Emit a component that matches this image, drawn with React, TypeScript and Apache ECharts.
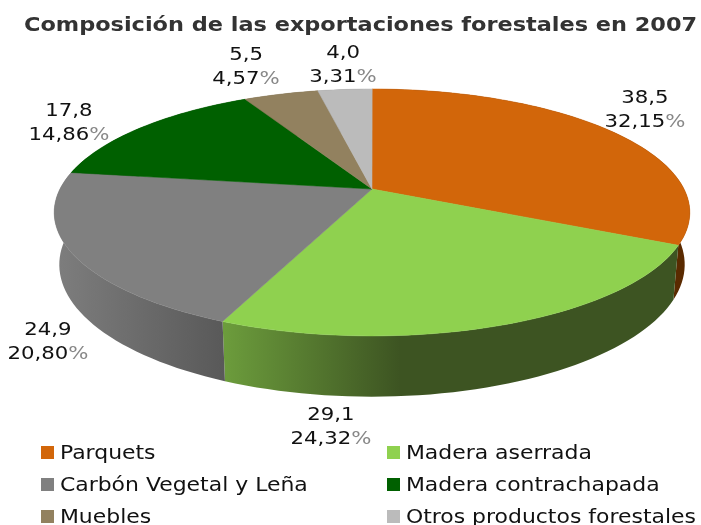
import React, { useEffect, useRef } from "react";
import * as echarts from "echarts";

const categories = ["Parquets", "Madera aserrada", "Carbón Vegetal y Leña", "Madera contrachapada", "Muebles", "Otros productos forestales"];
const values = [38.5, 29.1, 24.9, 17.8, 5.5, 4.0];
const percents = [32.15, 24.32, 20.8, 14.86, 4.57, 3.31];
const colors = ["#D2660A", "#8FD14F", "#808080", "#006000", "#92815F", "#BBBBBB"];
const titleText = "Composición de las exportaciones forestales en 2007";

// The reference picture is stretched sideways: the chart is laid out narrower and stretched by CSS.
const SX = 1.18;
// layout only, in page pixels
const labelPos = [[645, 109], [331, 426], [48, 341], [69, 122], [246, 66], [343, 64]];
const legendPos = [[41, 443], [387, 443], [41, 475], [387, 475], [41, 507], [387, 507]];
const wallFills: any[] = [
  [[372, "#5A2A00"], [690, "#5A2A00"]],
  [[224, "#6C9C3C"], [400, "#3D5422"], [690, "#3D5422"]],
  [[54, "#7E7E7E"], [228, "#585858"]],
  [[54, "#004000"], [372, "#004000"]],
  [[54, "#5F533C"], [372, "#5F533C"]],
  [[54, "#777777"], [372, "#777777"]],
];

const CX = 372, CY = 189, A = 312, B = 119, K = -0.19;
function project(share: number) {
  const t = (share / 100) * Math.PI * 2;
  const u = Math.sin(t), v = -Math.cos(t), w = 1 + K * v;
  return [(A * u) / w, (B * v) / w];
}
const top = (s: number) => { const p = project(s); return [(CX + p[0]) / SX, CY + p[1]]; };
const bot = (s: number) => { const p = project(s); return [(CX + p[0] * 0.984) / SX, 239.5 + p[1] * 1.07]; };
function arc(f: (s: number) => number[], a: number, b: number) {
  const n = Math.max(2, Math.ceil((b - a) * 2));
  const out: number[][] = [];
  for (let i = 0; i <= n; i++) out.push(f(a + ((b - a) * i) / n));
  return out;
}
const fmt = (v: number, d: number) => v.toFixed(d).replace(".", ",");

export default function App() {
  const ref = useRef<HTMLDivElement>(null);
  useEffect(() => {
    document.body.style.margin = "0";
    const chart = echarts.init(ref.current!, null, { renderer: "svg" });
    const starts = percents.map((_, i) => percents.slice(0, i).reduce((a, b) => a + b, 0));
    const series = categories.map((name, i) => ({
      type: "custom",
      name,
      coordinateSystem: "none",
      itemStyle: { color: colors[i] },
      data: [[percents[i], values[i], starts[i]]],
      silent: true,
      renderItem: (_p: any, api: any) => {
        const pct = api.value(0), val = api.value(1), s0 = api.value(2);
        const s1 = s0 + pct;
        const stops = wallFills[i];
        const x0 = stops[0][0], x1 = stops[stops.length - 1][0];
        const grad = new echarts.graphic.LinearGradient(x0 / SX, 0, x1 / SX, 0,
          stops.map((st: any) => ({ offset: (st[0] - x0) / (x1 - x0), color: st[1] })), true);
        const topArc = arc(top, s0, s1);
        const botArc = arc(bot, s0, s1).reverse();
        return {
          type: "group",
          children: [
            { type: "polygon", z2: 1, shape: { points: [...topArc, ...botArc] }, style: { fill: grad } },
            { type: "polygon", z2: 5, shape: { points: [[CX / SX, CY], ...topArc] }, style: { fill: colors[i], stroke: colors[i], lineWidth: 0.5 } },
            {
              type: "text", z2: 10, x: labelPos[i][0] / SX, y: labelPos[i][1],
              style: {
                text: `{n|${fmt(val, 1)}}\n{n|${fmt(pct, 2)}}{p|%}`,
                align: "center", verticalAlign: "middle",
                rich: {
                  n: { fontFamily: "DejaVu Sans", fontSize: 18, lineHeight: 24, fill: "#111" },
                  p: { fontFamily: "DejaVu Sans", fontSize: 18, lineHeight: 24, fill: "#888" },
                },
              },
            },
          ],
        };
      },
    }));
    chart.setOption({
      animation: false,
      backgroundColor: "#fff",
      title: {
        text: titleText, left: 24 / SX, top: 15, padding: 0,
        textStyle: { fontFamily: "DejaVu Sans", fontSize: 19, fontWeight: "bold", color: "#333" },
      },
      legend: categories.map((name, i) => ({
        data: [name],
        left: legendPos[i][0] / SX,
        top: legendPos[i][1],
        padding: 0,
        icon: "rect",
        itemWidth: 13 / SX,
        itemHeight: 13,
        selectedMode: false,
        textStyle: { fontFamily: "DejaVu Sans", fontSize: 18.6, color: "#111" },
      })),
      series,
    });
    return () => chart.dispose();
  }, []);
  return (
    <div
      ref={ref}
      style={{
        width: 701 / SX, height: 525, position: "absolute", left: 0, top: 0,
        transform: `scaleX(${SX})`, transformOrigin: "0 0", filter: "blur(0.5px)",
      }}
    />
  );
}
